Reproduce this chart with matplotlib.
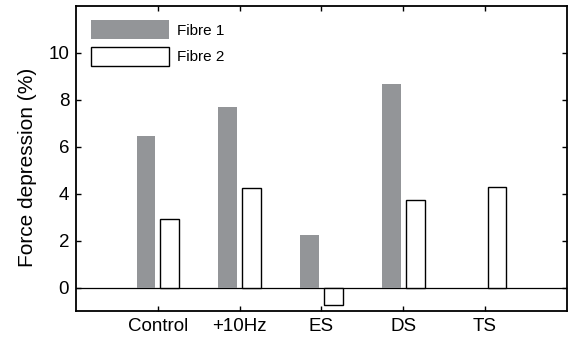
import matplotlib
matplotlib.use("Agg")
import matplotlib.pyplot as plt
import numpy as np

plt.rcParams['font.family'] = ['Liberation Sans', 'DejaVu Sans']

conditions = ["Control", "+10Hz", "ES", "DS", "TS"]
fibre1 = [6.46, 7.70, 2.22, 8.69, 0.0]
fibre2 = [2.93, 4.26, -0.75, 3.73, 4.29]

x = np.arange(1, len(conditions) + 1)
w = 0.23

fig = plt.figure(figsize=(5.68, 3.45), dpi=100)
ax = fig.add_axes([0.134, 0.0986, 0.864, 0.884])

ax.axhline(0, color="black", linewidth=0.9, zorder=1)
ax.bar(x - 0.145, fibre1, width=w, color="#939598", edgecolor="none",
       label="Fibre 1", zorder=2)
ax.bar(x + 0.145, fibre2, width=w, color="white", edgecolor="black",
       linewidth=1.0, label="Fibre 2", zorder=2)

ax.set_xlim(0, 6)
ax.set_ylim(-1, 12)
ax.set_xticks(x)
ax.set_xticklabels(conditions)
ax.set_yticks(np.arange(0, 11, 2))
ax.set_ylabel("Force depression (%)", fontsize=15)
ax.yaxis.set_label_coords(-0.08, 0.472)

ax.tick_params(direction="in", top=True, right=True, length=3.5, width=1.0,
               labelsize=13.5, pad=5)
for s in ax.spines.values():
    s.set_linewidth(1.3)

# legend: large flat swatches, no frame
ax.legend(loc="upper left", bbox_to_anchor=(0.0305, 0.954), frameon=False,
          fontsize=11, handlelength=5.1, handleheight=1.55, borderpad=0,
          borderaxespad=0, handletextpad=0.54, labelspacing=0.5)

fig.savefig("out.png", dpi=100)
